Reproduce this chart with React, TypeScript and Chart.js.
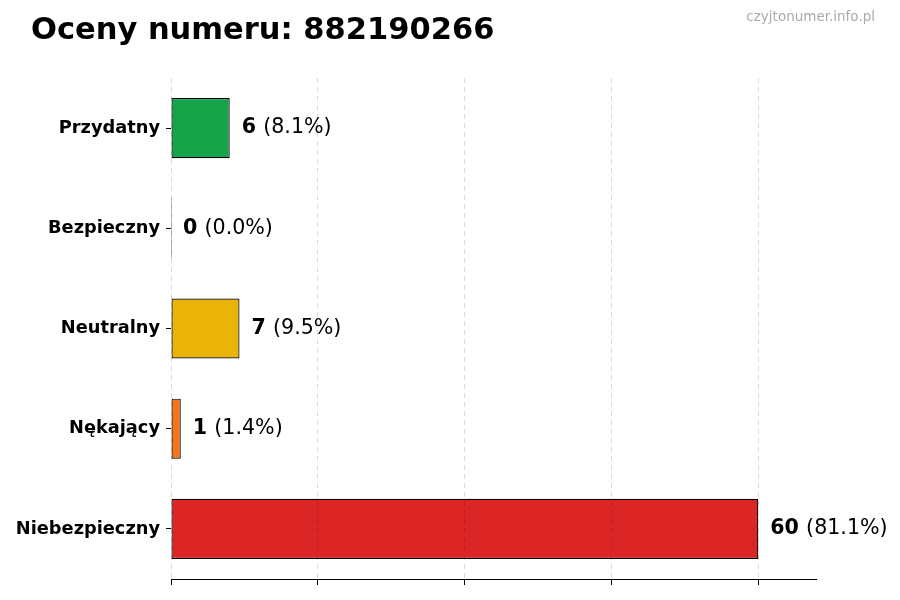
import { useEffect, useRef } from "react";
import { Chart, registerables } from "chart.js";

Chart.register(...registerables);

const categories = ["Przydatny", "Bezpieczny", "Neutralny", "Nękający", "Niebezpieczny"];
const counts = [6, 0, 7, 1, 60];
const barColors = ["#16a34a", "#2563eb", "#eab308", "#f97316", "#dc2626"];
const xTicks = [0, 15, 30, 45, 60];

const FONT = "'DejaVu Sans', sans-serif";

const overlay = {
  id: "overlay",
  afterDatasetsDraw(chart: any) {
    const ctx = chart.ctx;
    const total = counts.reduce((a, b) => a + b, 0);
    const meta = chart.getDatasetMeta(0);
    ctx.save();
    ctx.textBaseline = "middle";
    ctx.textAlign = "left";
    ctx.fillStyle = "#000";
    meta.data.forEach((bar: any, i: number) => {
      const v = counts[i];
      const pct = ((v / total) * 100).toFixed(1);
      const x = chart.scales.x.getPixelForValue(v) + 12;
      const y = bar.y;
      ctx.font = `bold 20.6px ${FONT}`;
      const s = String(v);
      ctx.fillText(s, x, y);
      const w = ctx.measureText(s + " ").width;
      ctx.font = `20.6px ${FONT}`;
      ctx.fillText(`(${pct}%)`, x + w, y);
    });
    ctx.restore();
  },
  afterDraw(chart: any) {
    const ctx = chart.ctx;
    const { left, right, bottom } = chart.chartArea;
    ctx.save();
    // bottom axis line
    ctx.strokeStyle = "#000";
    ctx.lineWidth = 1;
    ctx.beginPath();
    ctx.moveTo(left, Math.round(bottom) + 0.5);
    ctx.lineTo(right, Math.round(bottom) + 0.5);
    ctx.stroke();

    ctx.textBaseline = "middle";
    ctx.fillStyle = "#000";
    ctx.textAlign = "left";
    ctx.font = `bold 30.5px ${FONT}`;
    ctx.fillText("Oceny numeru: 882190266", 31, 31);
    ctx.fillStyle = "#aaaaaa";
    ctx.textAlign = "right";
    ctx.font = `13.5px ${FONT}`;
    ctx.fillText("czyjtonumer.info.pl", 875, 17);
    ctx.restore();
  },
};

export default function App() {
  const ref = useRef<HTMLCanvasElement>(null);

  useEffect(() => {
    document.body.style.margin = "0";
    if (!ref.current) return;
    const chart = new Chart(ref.current, {
      type: "bar",
      data: {
        labels: categories,
        datasets: [
          {
            data: counts,
            backgroundColor: barColors,
            borderColor: "#000",
            borderWidth: 1.2,
            borderSkipped: false,
            barPercentage: 0.6,
            categoryPercentage: 1,
            minBarLength: 1,
          },
        ],
      },
      options: {
        indexAxis: "y",
        animation: false,
        responsive: false,
        devicePixelRatio: 1,
        layout: { padding: { left: 0, top: 78, right: 83, bottom: 0 } },
        plugins: { legend: { display: false }, tooltip: { enabled: false } },
        scales: {
          x: {
            min: 0,
            max: 66,
            afterBuildTicks: (scale: any) => {
              scale.ticks = xTicks.map((value) => ({ value }));
            },
            afterFit: (scale: any) => {
              scale.height = 21;
            },
            ticks: { display: false },
            grid: {
              color: "rgba(0,0,0,0.14)",
              lineWidth: 1,
              drawTicks: true,
              tickLength: 6,
              tickColor: "#000",
              z: 1,
            },
            border: { display: false, dash: [5, 4] },
          },
          y: {
            afterFit: (scale: any) => {
              scale.width = 171;
            },
            ticks: {
              color: "#000",
              padding: 6,
              font: { family: FONT, size: 17.8, weight: "bold" },
            },
            grid: {
              offset: false,
              drawOnChartArea: false,
              drawTicks: true,
              tickLength: 5,
              tickColor: "#000",
            },
            border: { display: false },
          },
        },
      },
      plugins: [overlay],
    });
    return () => chart.destroy();
  }, []);

  return <canvas ref={ref} width={900} height={600} style={{ display: "block" }} />;
}
